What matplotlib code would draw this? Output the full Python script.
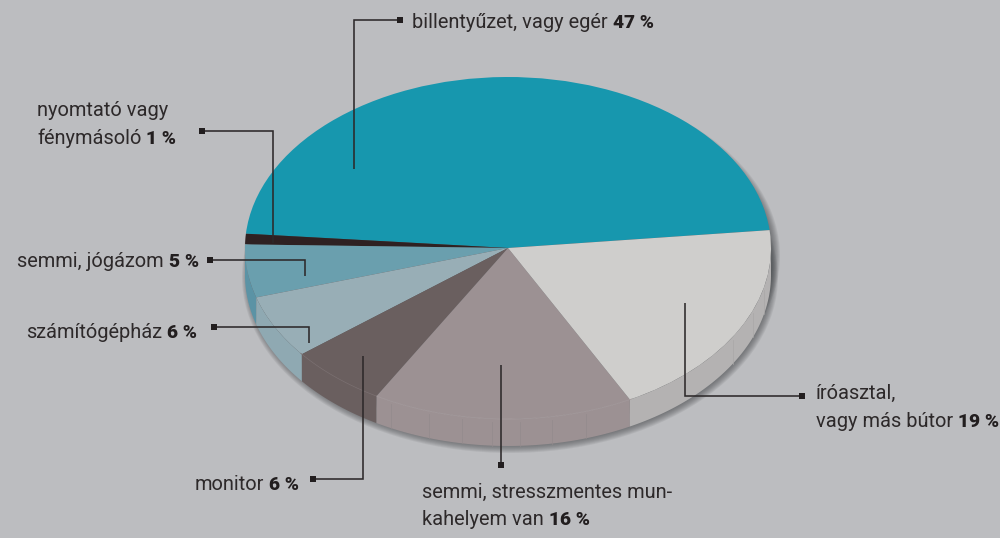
import numpy as np
import matplotlib
matplotlib.use('Agg')
import matplotlib.pyplot as plt
from matplotlib.patches import Ellipse, Polygon

# adatok
categories = ['billentyűzet, vagy egér', 'nyomtató vagy fénymásoló', 'semmi, jógázom', 'számítógépház',
              'monitor', 'semmi, stresszmentes munkahelyem van', 'íróasztal, vagy más bútor']
values = [47, 1, 5, 6, 6, 16, 19]
top_colors = ['#1797ae', '#2e2122', '#6a9fae', '#98aeb6', '#6a5f5f', '#9c9193', '#cfcecc']
side_colors = ['#1797ae', '#2e2122', '#5b93a5', '#8fa9b2', '#6a5f5f', '#9c9193', '#b4b2b2']
value_labels = ['47 %', '1 %', '5 %', '6 %', '6 %', '16 %', '19 %']

bg = '#bcbdc0'
ink = '#2d292a'
cx, cy, rx, ry, depth = 508, 248, 263, 171, 27
start = 6

fig = plt.figure(figsize=(10, 5.38), dpi=100, facecolor=bg)
under = fig.add_axes([0, 0, 1, 1], zorder=1)
ax = fig.add_axes([0, 0, 1, 1], zorder=2)
top = fig.add_axes([0, 0, 1, 1], zorder=3)
for a in (under, top):
    a.set_xlim(0, 1000)
    a.set_ylim(538, 0)
    a.axis('off')
    a.patch.set_alpha(0)

# arnyek: jobbra es lefele
for k in range(8):
    grow = 5 - k
    under.add_patch(Ellipse((cx + 4, cy + 8), 2 * (rx + grow), 2 * (ry + grow), fc='#3f4245', ec='none', alpha=0.09))
    under.add_patch(Ellipse((cx + 2, cy + depth + 2), 2 * (rx + grow), 2 * (ry + grow), fc='#3f4245', ec='none', alpha=0.09))

# oldalfal
bounds = start + np.cumsum([0] + values) * 3.6
for i in range(len(values)):
    a = max(bounds[i], 180)
    b = min(bounds[i + 1], 360)
    if b <= a:
        continue
    ang = np.radians(np.linspace(a, b, 80))
    x = cx + rx * np.cos(ang)
    y = cy - ry * np.sin(ang)
    pts = np.column_stack([np.r_[x, x[::-1]], np.r_[y, y[::-1] + depth]])
    under.add_patch(Polygon(pts, closed=True, fc=side_colors[i], ec='none'))

# a fal halvany osztasai
for px in [391, 429, 462, 492, 520, 552, 586, 733, 753, 764]:
    yy = cy + ry * np.sqrt(1 - ((px - cx) / rx) ** 2)
    col = '#938a8c' if px < 600 else '#a9a7a7'
    under.plot([px, px], [yy + 3, yy + depth], color=col, lw=0.5)

# felso lap
ax.pie(values, colors=top_colors, startangle=start, counterclock=True, radius=1,
       wedgeprops={'linewidth': 0.3, 'edgecolor': 'none'})
ax.set_aspect('auto')
ax.set_xlim(-cx / rx, (1000 - cx) / rx)
ax.set_ylim((cy - 538) / ry, cy / ry)
ax.patch.set_alpha(0)

# vilagos el a monitor es a 16 % szeleten
for a, b, c in [(240, 298, '#aaa0a2'), (218, 240, '#7d7172')]:
    ang = np.radians(np.linspace(a, b, 80))
    top.plot(cx + rx * np.cos(ang), cy - ry * np.sin(ang), color=c, lw=0.5)

leaders = [
    ([354, 354, 400], [169, 20, 20]),
    ([273, 273, 202], [243, 131, 131]),
    ([305, 305, 210], [276, 260, 260]),
    ([309, 309, 214], [343, 327, 327]),
    ([363, 363, 313], [356, 479, 479]),
    ([501, 501], [365, 465]),
    ([685, 685, 802], [303, 396, 396]),
]
for xs, ys in leaders:
    top.plot(xs, ys, color=ink, lw=1.15, solid_joinstyle='miter', solid_capstyle='butt')
    top.plot(xs[-1], ys[-1], marker='s', ms=3.8, color='#221e1f', mew=0)

fs = 14.4
renderer = fig.canvas.get_renderer()


def label(x, y, normal, bold=None):
    txt = top.text(x, y, normal, fontsize=fs, family='Roboto', color=ink, va='baseline', ha='left')
    if bold:
        box = txt.get_window_extent(renderer)
        top.text(box.x1 + 5, y, bold, fontsize=13.8, family='Roboto', fontweight='black',
                 color='#221e1f', va='baseline', ha='left')


label(412, 28, 'billentyűzet, vagy egér', value_labels[0])
label(37, 116, 'nyomtató vagy')
label(37, 144, 'fénymásoló', value_labels[1])
label(17, 267, 'semmi, jógázom', value_labels[2])
label(26, 338, 'számítógépház', value_labels[3])
label(195, 490, 'monitor', value_labels[4])
label(422, 498, 'semmi, stresszmentes mun-')
label(422, 525, 'kahelyem van', value_labels[5])
label(816, 399, 'íróasztal,')
label(816, 427, 'vagy más bútor', value_labels[6])

fig.savefig('out.png', dpi=100, facecolor=bg)
